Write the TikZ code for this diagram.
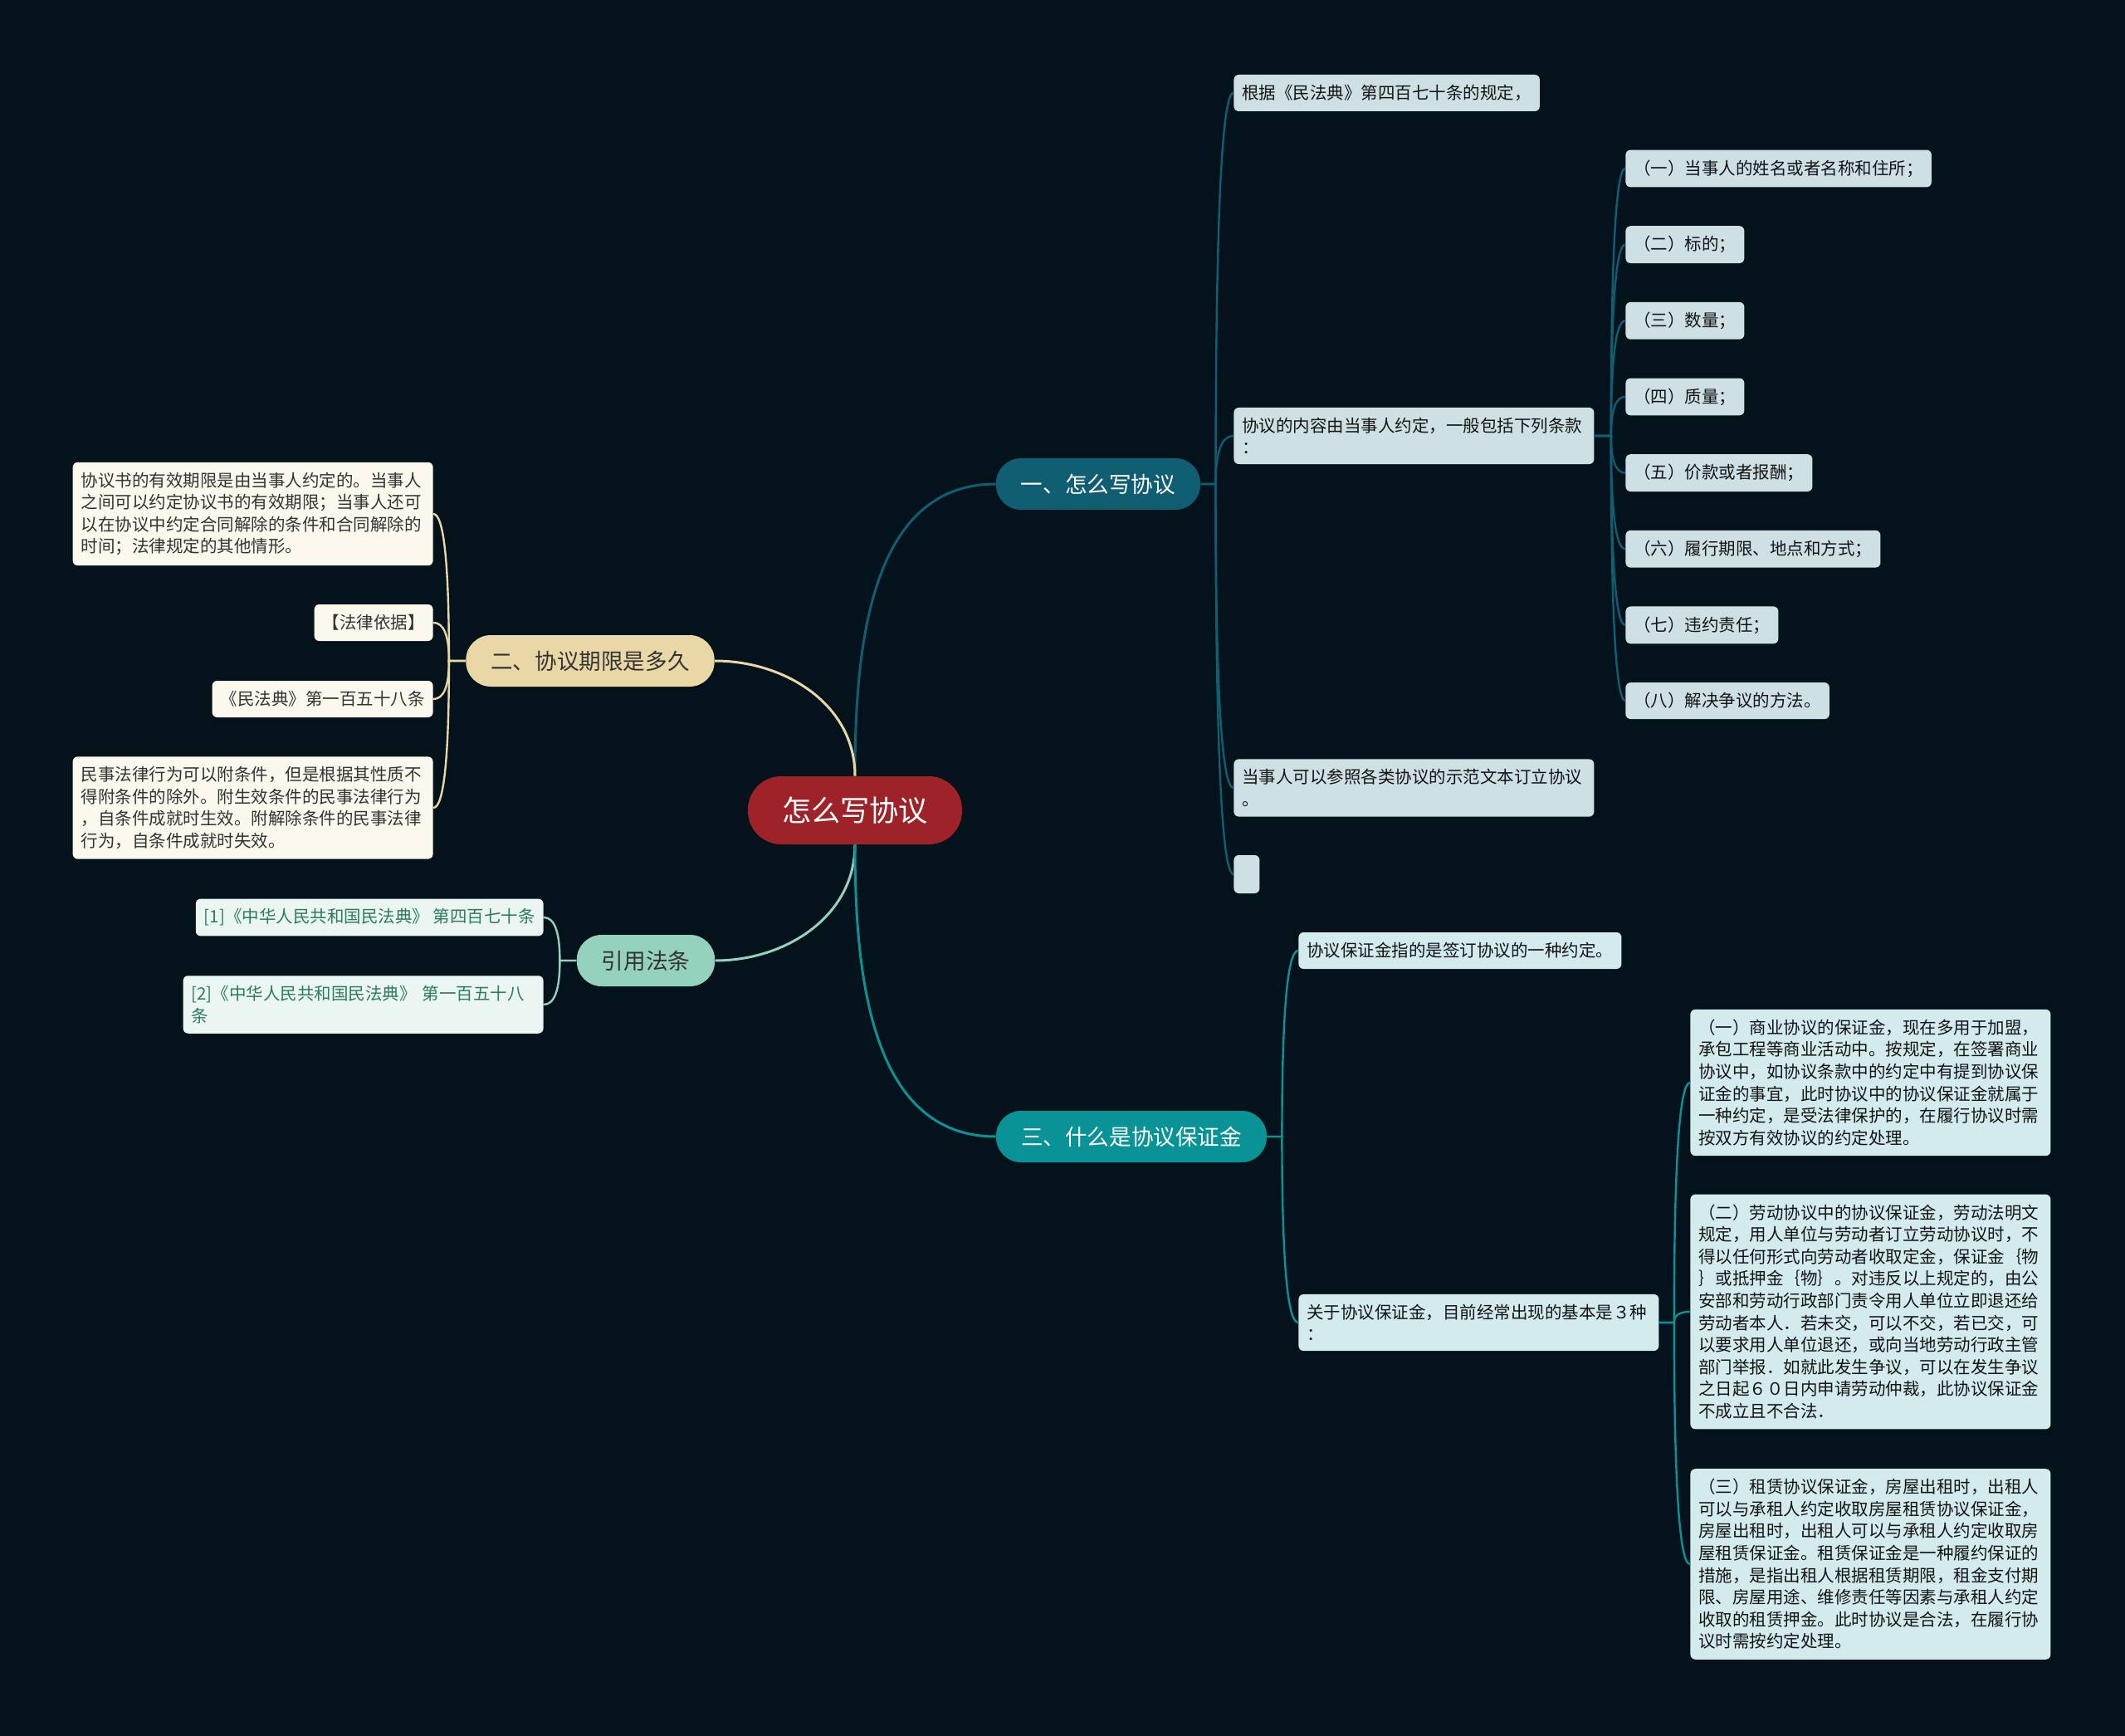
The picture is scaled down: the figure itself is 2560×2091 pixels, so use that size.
\documentclass[tikz,border=0pt]{standalone}
\usepackage{fontspec}
\setmainfont{Noto Sans CJK SC}
\usetikzlibrary{positioning,calc}
\definecolor{clbg}{HTML}{03121B}
\definecolor{clred}{HTML}{9D2329}
\definecolor{clnavy}{HTML}{0F5E71}
\definecolor{clsand}{HTML}{E9D8A6}
\definecolor{clmint}{HTML}{94D2BD}
\definecolor{clteal}{HTML}{0A9396}
\definecolor{clgrey}{HTML}{CFE0E5}
\definecolor{clcyan}{HTML}{D3EBEC}
\definecolor{clcream}{HTML}{FBF8EE}
\definecolor{clpale}{HTML}{EBF6F3}
\definecolor{clgreen}{HTML}{2B7A61}
\tikzset{
  hub/.style  ={fill=clred, text=white, rounded corners=20pt, inner xsep=20.5pt,
                minimum height=41pt, font=\fontsize{17.6}{21}\selectfont},
  pill/.style ={rounded corners=15pt, inner xsep=15pt, minimum height=31pt,
                font=\fontsize{13.3}{16}\selectfont},
  card/.style ={rounded corners=3pt, inner xsep=5pt, inner ysep=6pt, minimum height=22pt,
                align=left, text=black!92, font=\fontsize{10.25}{13.3}\selectfont},
  gry/.style  ={card, fill=clgrey},
  cyn/.style  ={card, fill=clcyan},
  crm/.style  ={card, fill=clcream, text=black!80},
  pal/.style  ={card, fill=clpale, text=clgreen},
  wide/.style ={text width=207pt},
  trunk/.style={line width=1.5pt},
  twig/.style ={line width=1.2pt},
  sprig/.style={to path={.. controls ($(\tikztostart)!.667!(\tikztostart |- \tikztotarget)$)
                and ($(\tikztotarget)!.667!(\tikztostart |- \tikztotarget)$) .. (\tikztotarget)}},
}

\begin{document}
\begin{tikzpicture}[x=0.5pt, y=-0.5pt]
  \path[use as bounding box, fill=clbg] (0,0) rectangle (2560,2091);

  % --- centre and the four topics ---------------------------------------
  \node[hub] (hub) at (1030,976) {怎么写协议};
  \node[pill, fill=clnavy, text=white]    (t1) at (1323,583)  {一、怎么写协议};
  \node[pill, fill=clsand, text=black!80] (t2) at (711,796)   {二、协议期限是多久};
  \node[pill, fill=clmint, text=black!80] (t3) at (778,1157)  {引用法条};
  \node[pill, fill=clteal, text=white]    (t4) at (1363,1369) {三、什么是协议保证金};

  % --- topic one ----------------------------------------------------------
  \node[gry, anchor=west] (a1) at (1486,112) {根据《民法典》第四百七十条的规定，};
  \node[gry, wide, anchor=west] (a2) at (1486,525)
        {协议的内容由当事人约定，一般包括下列条款\\：};
  \node[gry, wide, anchor=west] (a3) at (1486,949)
        {当事人可以参照各类协议的示范文本订立协议\\。};
  \node[gry, anchor=west, minimum width=15.5pt, minimum height=23pt, inner sep=0pt]
        (a4) at (1486,1053) {};

  \node[gry, anchor=west] (b1) at (1958,203) {（一）当事人的姓名或者名称和住所；};
  \node[gry, below=23pt of b1.south west, anchor=north west] (b2) {（二）标的；};
  \node[gry, below=23pt of b2.south west, anchor=north west] (b3) {（三）数量；};
  \node[gry, below=23pt of b3.south west, anchor=north west] (b4) {（四）质量；};
  \node[gry, below=23pt of b4.south west, anchor=north west] (b5) {（五）价款或者报酬；};
  \node[gry, below=23pt of b5.south west, anchor=north west] (b6) {（六）履行期限、地点和方式；};
  \node[gry, below=23pt of b6.south west, anchor=north west] (b7) {（七）违约责任；};
  \node[gry, below=23pt of b7.south west, anchor=north west] (b8) {（八）解决争议的方法。};

  % --- topic two ----------------------------------------------------------
  \node[crm, wide, anchor=east] (l1) at (522,619)
        {协议书的有效期限是由当事人约定的。当事人\\
         之间可以约定协议书的有效期限；当事人还可\\
         以在协议中约定合同解除的条件和合同解除的\\
         时间；法律规定的其他情形。};
  \node[crm, anchor=east] (l2) at (522,750) {【法律依据】};
  \node[crm, anchor=east] (l3) at (522,842) {《民法典》第一百五十八条};
  \node[crm, wide, anchor=east] (l4) at (522,973)
        {民事法律行为可以附条件，但是根据其性质不\\
         得附条件的除外。附生效条件的民事法律行为\\
         ，自条件成就时生效。附解除条件的民事法律\\
         行为，自条件成就时失效。};

  % --- cited articles -----------------------------------------------------
  \node[pal, anchor=east] (r1) at (655,1105) {[1]《中华人民共和国民法典》 第四百七十条};
  \node[pal, wide, anchor=east] (r2) at (655,1210)
        {[2]《中华人民共和国民法典》 第一百五十八\\条};

  % --- topic three --------------------------------------------------------
  \node[cyn, anchor=west] (c1) at (1564,1145) {协议保证金指的是签订协议的一种约定。};
  \node[cyn, wide, anchor=west] (c2) at (1564,1593)
        {关于协议保证金，目前经常出现的基本是３种\\：};

  \node[cyn, wide, anchor=west] (d1) at (2036,1304)
        {（一）商业协议的保证金，现在多用于加盟，\\
         承包工程等商业活动中。按规定，在签署商业\\
         协议中，如协议条款中的约定中有提到协议保\\
         证金的事宜，此时协议中的协议保证金就属于\\
         一种约定，是受法律保护的，在履行协议时需\\
         按双方有效协议的约定处理。};
  \node[cyn, wide, anchor=west] (d2) at (2036,1580)
        {（二）劳动协议中的协议保证金，劳动法明文\\
         规定，用人单位与劳动者订立劳动协议时，不\\
         得以任何形式向劳动者收取定金，保证金｛物\\
         ｝或抵押金｛物｝。对违反以上规定的，由公\\
         安部和劳动行政部门责令用人单位立即退还给\\
         劳动者本人．若未交，可以不交，若已交，可\\
         以要求用人单位退还，或向当地劳动行政主管\\
         部门举报．如就此发生争议，可以在发生争议\\
         之日起６０日内申请劳动仲裁，此协议保证金\\
         不成立且不合法．};
  \node[cyn, wide, anchor=west] (d3) at (2036,1884)
        {（三）租赁协议保证金，房屋出租时，出租人\\
         可以与承租人约定收取房屋租赁协议保证金，\\
         房屋出租时，出租人可以与承租人约定收取房\\
         屋租赁保证金。租赁保证金是一种履约保证的\\
         措施，是指出租人根据租赁期限，租金支付期\\
         限、房屋用途、维修责任等因素与承租人约定\\
         收取的租赁押金。此时协议是合法，在履行协\\
         议时需按约定处理。};

  % --- connectors ---------------------------------------------------------
  \draw[trunk, clnavy] (hub.north) to[out=90,in=180]  (t1.west);
  \draw[trunk, clsand] (hub.north) to[out=90,in=0]    (t2.east);
  \draw[trunk, clmint] (hub.south) to[out=-90,in=0]   (t3.east);
  \draw[trunk, clteal] (hub.south) to[out=-90,in=180] (t4.west);

  \coordinate (s1) at ($(t1.east)+(18,0)$);
  \draw[twig, clnavy] (t1.east) -- (s1) to[sprig] (a1.west);
  \draw[twig, clnavy] (t1.east) -- (s1) to[sprig] (a2.west);
  \draw[twig, clnavy] (t1.east) -- (s1) to[sprig] (a3.west);
  \draw[twig, clnavy] (t1.east) -- (s1) to[sprig] (a4.west);

  \coordinate (s2) at ($(a2.east)+(20,0)$);
  \draw[twig, clnavy] (a2.east) -- (s2) to[sprig] (b1.west);
  \draw[twig, clnavy] (a2.east) -- (s2) to[sprig] (b2.west);
  \draw[twig, clnavy] (a2.east) -- (s2) to[sprig] (b3.west);
  \draw[twig, clnavy] (a2.east) -- (s2) to[sprig] (b4.west);
  \draw[twig, clnavy] (a2.east) -- (s2) to[sprig] (b5.west);
  \draw[twig, clnavy] (a2.east) -- (s2) to[sprig] (b6.west);
  \draw[twig, clnavy] (a2.east) -- (s2) to[sprig] (b7.west);
  \draw[twig, clnavy] (a2.east) -- (s2) to[sprig] (b8.west);

  \coordinate (s3) at ($(t2.west)+(-20,0)$);
  \draw[twig, clsand] (t2.west) -- (s3) to[sprig] (l1.east);
  \draw[twig, clsand] (t2.west) -- (s3) to[sprig] (l2.east);
  \draw[twig, clsand] (t2.west) -- (s3) to[sprig] (l3.east);
  \draw[twig, clsand] (t2.west) -- (s3) to[sprig] (l4.east);

  \coordinate (s4) at ($(t3.west)+(-20,0)$);
  \draw[twig, clmint] (t3.west) -- (s4) to[sprig] (r1.east);
  \draw[twig, clmint] (t3.west) -- (s4) to[sprig] (r2.east);

  \coordinate (s5) at ($(t4.east)+(18,0)$);
  \draw[twig, clteal] (t4.east) -- (s5) to[sprig] (c1.west);
  \draw[twig, clteal] (t4.east) -- (s5) to[sprig] (c2.west);

  \coordinate (s6) at ($(c2.east)+(18,0)$);
  \draw[twig, clteal] (c2.east) -- (s6) to[sprig] (d1.west);
  \draw[twig, clteal] (c2.east) -- (s6) to[sprig] (d2.west);
  \draw[twig, clteal] (c2.east) -- (s6) to[sprig] (d3.west);
\end{tikzpicture}
\end{document}
